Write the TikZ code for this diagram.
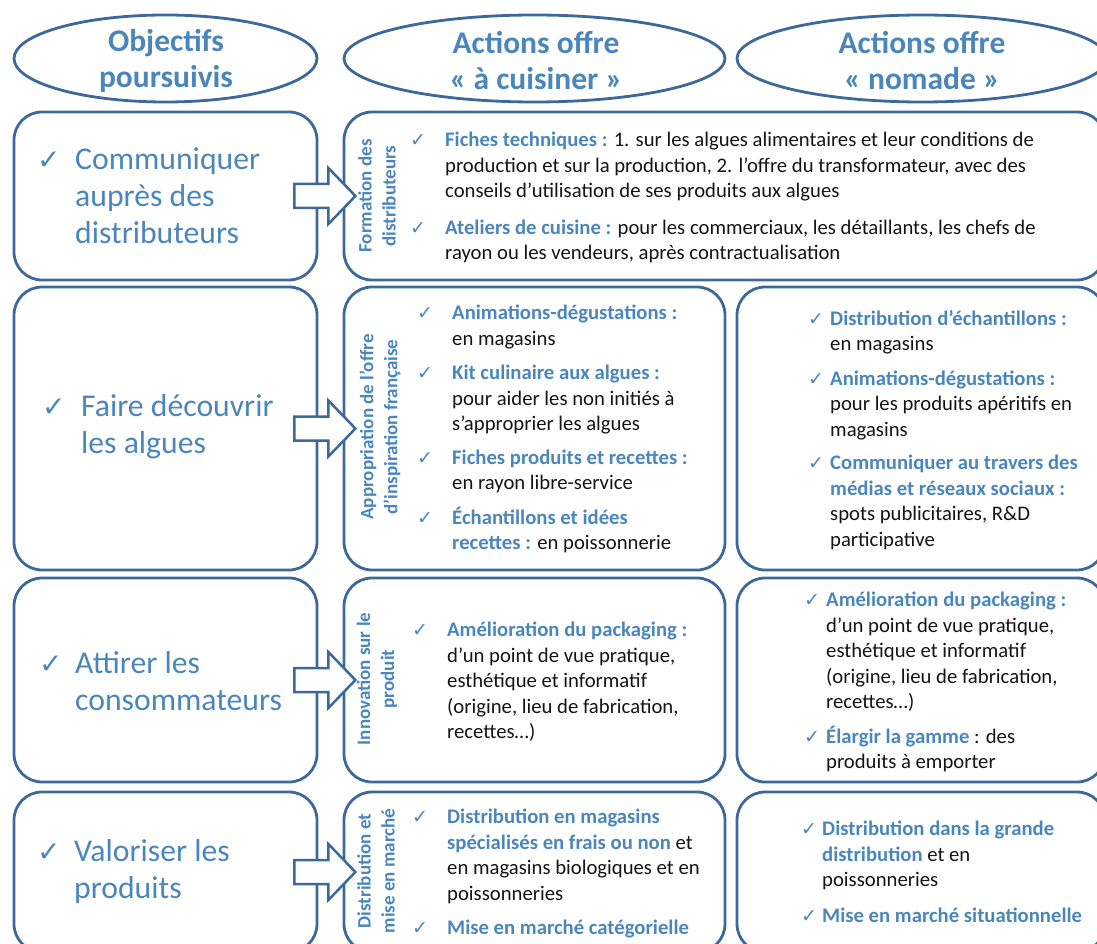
\documentclass[tikz,border=0pt]{standalone}
\usepackage{fontspec}
\setmainfont{Carlito}
\newfontfamily\symb{DejaVu Sans}
\usetikzlibrary{positioning,shapes.geometric}

\definecolor{bordure}{RGB}{60,104,155}
\definecolor{bleu}{RGB}{74,134,188}
\definecolor{texte}{RGB}{20,20,20}

\newcommand{\coche}[1][35pt]{\makebox[#1][l]{\textcolor{bleu}{\symb\fontsize{19}{19}\selectfont ✓}}}
\newcommand{\grcoche}[1][38pt]{\makebox[#1][l]{\textcolor{bleu}{\symb\fontsize{28}{28}\selectfont ✓}}}
\newcommand{\retrait}[1][35pt]{\hspace*{#1}}
\newcommand{\bl}[1]{\textcolor{bleu}{\bfseries #1}}

\begin{document}
\begin{tikzpicture}[x=1pt, y=-1pt,
  cadre/.style={draw=bordure, line width=2.8pt, rounded corners=28pt, inner sep=0pt},
  entete/.style={ellipse, draw=bordure, line width=2.8pt, inner sep=0pt},
  titre/.style={text=bleu, font=\bfseries\fontsize{31.5}{36}\selectfont, align=center},
  objectif/.style={text=bleu, font=\fontsize{31.7}{37}\selectfont, align=left, anchor=west, inner sep=0pt},
  axe/.style={text=bleu, font=\bfseries\fontsize{19}{24}\selectfont, align=center, rotate=90},
  liste/.style={text=texte, font=\fontsize{20.7}{25.5}\selectfont, align=left, anchor=north west, inner sep=0pt},
  fleche/.pic={
    \draw[bordure, line width=2.5pt, fill=white, line join=miter]
      (-61,-12) -- (-27,-12) -- (-27,-28) -- (0,0) -- (-27,28) -- (-27,12) -- (-61,12) -- cycle;
  },
]
\clip (0,0) rectangle (1097,944);

%headers
\node[entete, minimum width=303pt, minimum height=87pt] (e1) at (165.5,58.5) {};
\node[entete, minimum width=381pt, minimum height=87pt] (e2) at (534.5,58.5) {};
\node[entete, minimum width=370pt, minimum height=87pt] (e3) at (922,58.5) {};
\node[titre] (h1) at (166,61) {Objectifs\\poursuivis};
\node[titre] (h2) at (536,61) {Actions offre\\« à cuisiner »};
\node[titre] (h3) at (922,61) {Actions offre\\« nomade »};

%left column
\node[cadre, minimum width=303pt, minimum height=168pt] (o1) at (165.5,196) {};
\node[cadre, minimum width=303pt, minimum height=283pt] (o2) at (165.5,428.5) {};
\node[cadre, minimum width=303pt, minimum height=204pt] (o3) at (165.5,680) {};
\node[cadre, minimum width=303pt, minimum height=160pt] (o4) at (165.5,872) {};

%actions
\node[cadre, minimum width=761pt, minimum height=168pt] (a1) at (724.5,196) {};
\node[cadre, minimum width=381pt, minimum height=283pt] (a2) at (534.5,428.5) {};
\node[cadre, minimum width=368pt, minimum height=283pt] (n2) at (921,428.5) {};
\node[cadre, minimum width=381pt, minimum height=204pt] (a3) at (534.5,680) {};
\node[cadre, minimum width=368pt, minimum height=204pt] (n3) at (921,680) {};
\node[cadre, minimum width=381pt, minimum height=160pt] (a4) at (534.5,872) {};
\node[cadre, minimum width=368pt, minimum height=160pt] (n4) at (921,872) {};

%arrows
\pic at ([xshift=37pt]o1.east) {fleche};
\pic at ([xshift=37pt]o2.east) {fleche};
\pic at ([xshift=37pt]o3.east) {fleche};
\pic at ([xshift=37pt]o4.east) {fleche};

%objectives
\node[objectif] (t1) at (37,196) {\grcoche[38pt]Communiquer\\\retrait[38pt]auprès des\\\retrait[38pt]distributeurs};
\node[objectif] (t2) at (42,427) {\grcoche[39pt]Faire découvrir\\\retrait[39pt]les algues};
\node[objectif] (t3) at (39,681) {\grcoche[36pt]Attirer les\\\retrait[36pt]consommateurs};
\node[objectif] (t4) at (37,872) {\grcoche[37pt]Valoriser les\\\retrait[37pt]produits};

%side labels
\node[axe] (x1) at (377,196) {Formation des\\distributeurs};
\node[axe] (x2) at (380,427) {Appropriation de l’offre\\d’inspiration française};
\node[axe] (x3) at (377,679) {Innovation sur le\\produit};
\node[axe] (x4) at (376,871) {Distribution et\\mise en marché};

%lists
\node[liste] (l1) at (410,132) {%
\coche\bl{Fiches techniques :} 1. sur les algues alimentaires et leur conditions de\\
\retrait production et sur la production, 2. l’offre du transformateur, avec des\\
\retrait conseils d’utilisation de ses produits aux algues\\[11pt]
\coche\bl{Ateliers de cuisine :} pour les commerciaux, les détaillants, les chefs de\\
\retrait rayon ou les vendeurs, après contractualisation};

\node[liste] (l2) at (417,305) {%
\coche\bl{Animations-dégustations :}\\
\retrait en magasins\\[9pt]
\coche\bl{Kit culinaire aux algues :}\\
\retrait pour aider les non initiés à\\
\retrait s’approprier les algues\\[8pt]
\coche\bl{Fiches produits et recettes :}\\
\retrait en rayon libre-service\\[9pt]
\coche\bl{Échantillons et idées}\\
\retrait\bl{recettes :} en poissonnerie};

\node[liste] (m2) at (808,310) {%
\coche[22pt]\bl{Distribution d’échantillons :}\\
\retrait[22pt]en magasins\\[9pt]
\coche[22pt]\bl{Animations-dégustations :}\\
\retrait[22pt]pour les produits apéritifs en\\
\retrait[22pt]magasins\\[8pt]
\coche[22pt]\bl{Communiquer au travers des}\\
\retrait[22pt]\bl{médias et réseaux sociaux :}\\
\retrait[22pt]spots publicitaires, R\&D\\
\retrait[22pt]participative};

\node[liste] (l3) at (412,622) {%
\coche\bl{Amélioration du packaging :}\\
\retrait d’un point de vue pratique,\\
\retrait esthétique et informatif\\
\retrait (origine, lieu de fabrication,\\
\retrait recettes…)};

\node[liste] (m3) at (804,592) {%
\coche[22pt]\bl{Amélioration du packaging :}\\
\retrait[22pt]d’un point de vue pratique,\\
\retrait[22pt]esthétique et informatif\\
\retrait[22pt](origine, lieu de fabrication,\\
\retrait[22pt]recettes…)\\[9pt]
\coche[22pt]\bl{Élargir la gamme} : des\\
\retrait[22pt]produits à emporter};

\node[liste] (l4) at (412,809) {%
\coche\bl{Distribution en magasins}\\
\retrait\bl{spécialisés en frais ou non} et\\
\retrait en magasins biologiques et en\\
\retrait poissonneries\\[9pt]
\coche\bl{Mise en marché catégorielle}};

\node[liste] (m4) at (801,821) {%
\coche[21pt]\bl{Distribution dans la grande}\\
\retrait[21pt]\bl{distribution} et en\\
\retrait[21pt]poissonneries\\[10pt]
\coche[21pt]\bl{Mise en marché situationnelle}};

\end{tikzpicture}
\end{document}
